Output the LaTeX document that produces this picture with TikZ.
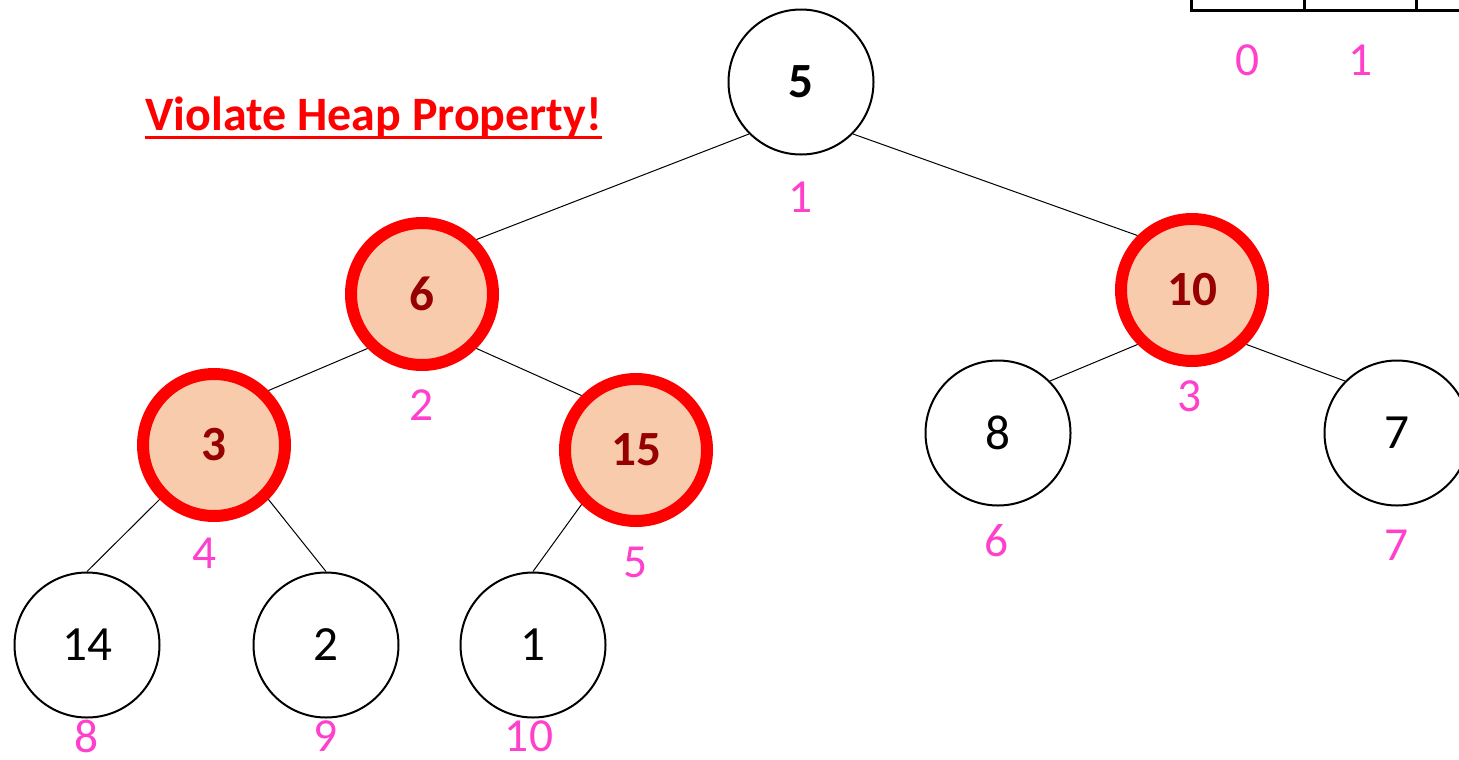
\documentclass[tikz,border=0pt]{standalone}
\usepackage{fontspec}
\setmainfont{Carlito}
\definecolor{idxpink}{RGB}{255,64,204}
\definecolor{peach}{RGB}{248,203,173}
\definecolor{darkred}{RGB}{150,0,0}

\tikzstyle{heapnode}=[circle,draw,line width=0.04cm,minimum size=2.9cm,inner sep=0cm,font=\fontsize{28}{34}\selectfont]
\tikzstyle{badnode}=[circle,draw=red,fill=peach,line width=0.24cm,minimum size=2.84cm,inner sep=0cm,text=darkred,font=\fontsize{28}{34}\selectfont\bfseries]
\tikzstyle{idx}=[text=idxpink,inner sep=0cm,font=\fontsize{27}{32}\selectfont]
\tikzstyle{cell}=[rectangle,draw,line width=0.06cm,minimum width=2.25cm,minimum height=1.2cm]

\begin{document}
\begin{tikzpicture}[line width=0.02cm]
  \useasboundingbox (0,0) rectangle (29.18,-15.18);

  % array, cut off at the top
  \node[cell] (cell0) at (24.96,0.4) {};
  \node[cell] (cell1) at (27.21,0.4) {};
  \node[cell] (cell2) at (29.46,0.4) {};
  \node[idx] (arr0) at (24.96,-1.2) {0};
  \node[idx] (arr1) at (27.21,-1.2) {1};

  \node[text=red,anchor=base,inner sep=0cm,font=\fontsize{27.3}{33}\selectfont\bfseries] (title) at (7.47,-2.6) {Violate Heap Property!};
  \draw[red,line width=0.06cm] ([yshift=-0.14cm] title.base west) -- ([yshift=-0.14cm] title.base east);

  % tree
  \node[heapnode,font=\fontsize{28}{34}\selectfont\bfseries] (h1) at (16.02,-1.64) {5};
  \node[badnode] (h2) at (8.44,-5.88) {6};
  \node[badnode] (h3) at (23.84,-5.8) {10};
  \node[badnode] (h4) at (4.28,-8.9) {3};
  \node[badnode] (h5) at (12.72,-9) {15};
  \node[heapnode] (h6) at (19.96,-8.66) {8};
  \node[heapnode] (h7) at (27.94,-8.66) {7};
  \node[heapnode] (h8) at (1.74,-12.9) {14};
  \node[heapnode] (h9) at (6.52,-12.9) {2};
  \node[heapnode] (h10) at (10.66,-12.9) {1};

  \draw (h1.south west) -- (h2.north east);
  \draw (h1.south east) -- (h3.north west);
  \draw (h2.south west) -- (h4.north east);
  \draw (h2.south east) -- (h5.north west);
  \draw (h3.south west) -- (h6.north east);
  \draw (h3.south east) -- (h7.north west);
  \draw (h4.south west) -- (h8.north);
  \draw (h4.south east) -- (h9.north);
  \draw (h5.south west) -- (h10.north);

  % indices
  \node[idx] (idx1) at (16.02,-3.94) {1};
  \node[idx] (idx2) at (8.44,-8.1) {2};
  \node[idx] (idx3) at (23.8,-7.92) {3};
  \node[idx] (idx4) at (4.1,-11.06) {4};
  \node[idx] (idx5) at (12.72,-11.24) {5};
  \node[idx] (idx6) at (19.94,-10.82) {6};
  \node[idx] (idx7) at (27.94,-10.9) {7};
  \node[idx] (idx8) at (1.74,-14.72) {8};
  \node[idx] (idx9) at (6.52,-14.72) {9};
  \node[idx] (idx10) at (10.58,-14.72) {10};
\end{tikzpicture}
\end{document}
